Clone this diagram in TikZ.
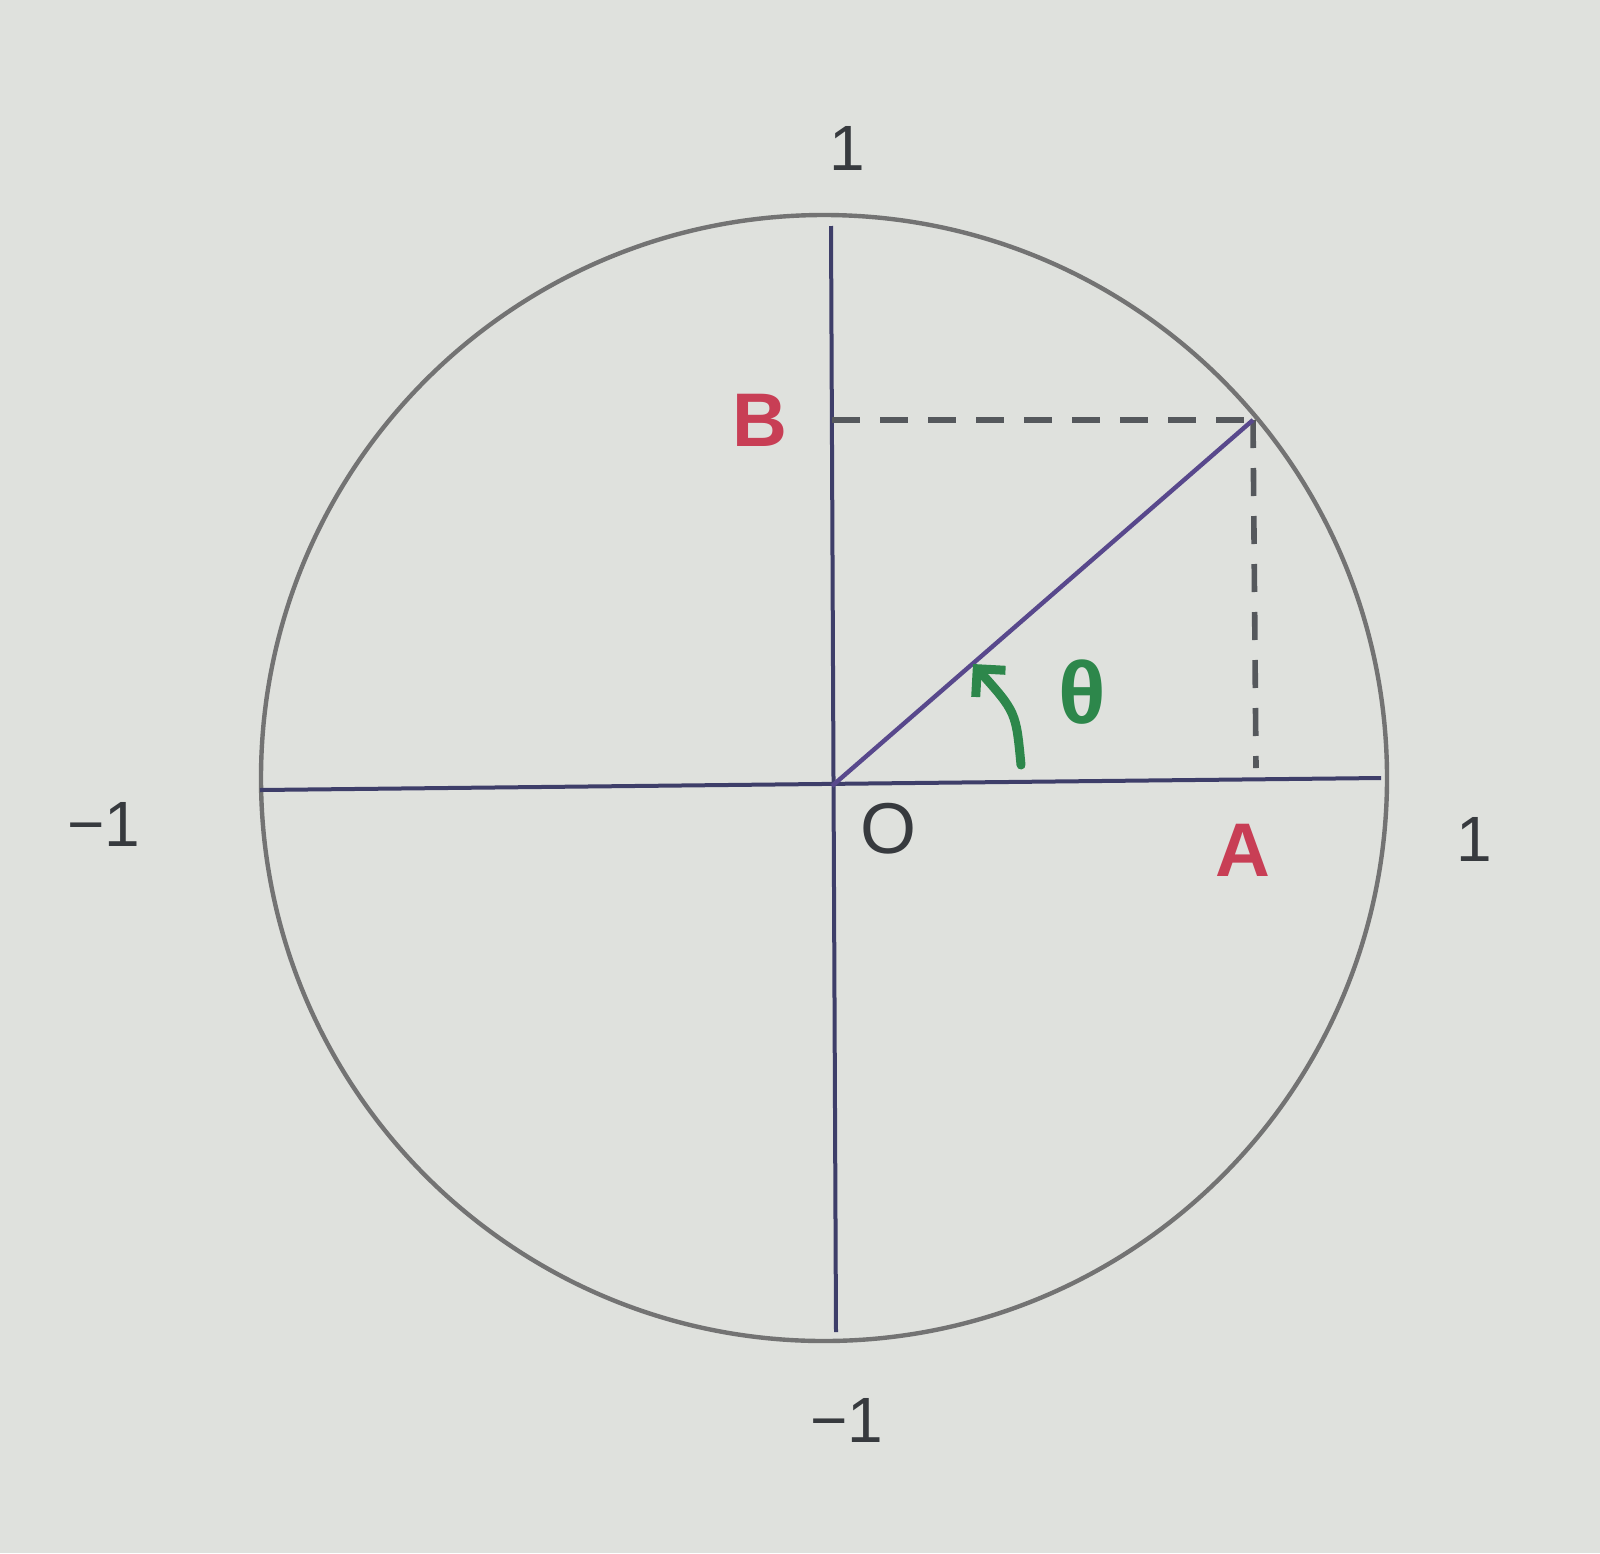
\documentclass[tikz,border=0pt]{standalone}
\usepackage{fontspec}
\setmainfont{Liberation Sans}
\usetikzlibrary{arrows.meta}
\definecolor{paper}{RGB}{223,225,221}
\definecolor{axiscol}{RGB}{62,62,105}
\definecolor{circcol}{RGB}{115,115,115}
\definecolor{dashcol}{RGB}{85,88,92}
\definecolor{radcol}{RGB}{88,72,140}
\definecolor{redcol}{RGB}{200,62,85}
\definecolor{greencol}{RGB}{45,135,75}
\definecolor{inkcol}{RGB}{55,58,62}
\tikzset{
  axis/.style={draw=axiscol, line width=2pt},
  circ/.style={draw=circcol, line width=2.2pt},
  proj/.style={draw=dashcol, line width=2.8pt, dash pattern=on 14pt off 10pt},
  radius line/.style={draw=radcol, line width=2.2pt},
  ptlabel/.style={text=redcol, font=\fontsize{38}{38}\selectfont\bfseries, inner sep=0pt},
  ticklabel/.style={text=inkcol, font=\fontsize{32}{32}\selectfont, inner sep=0pt},
  olabel/.style={text=inkcol, font=\fontsize{36}{36}\selectfont, inner sep=0pt},
  anglabel/.style={text=greencol, font=\fontsize{44}{44}\selectfont\bfseries, inner sep=0pt},
  angarrow/.style={draw=greencol, line width=4.5pt, line cap=round, -{Straight Barb[length=10pt,width=20pt,line width=4.5pt]}}
}
\begin{document}
\begin{tikzpicture}[x=0.5pt,y=-0.5pt]
\fill[paper] (0,0) rectangle (1600,1553);
\useasboundingbox (0,0) rectangle (1600,1553);
% circle
\coordinate (C) at (824,778);
\draw[circ] (C) circle[radius=563];
% axes
\coordinate (XL) at (260,790);
\coordinate (XR) at (1381,778);
\coordinate (YT) at (831,226);
\coordinate (YB) at (836,1332);
\coordinate (O) at (832,786);
\draw[axis] (XL) -- (XR);
\draw[axis] (YT) -- (YB);
% point on circle and projections
\coordinate (P) at (1253,420);
\coordinate (Bp) at (832,420);
\coordinate (Ap) at (1256,768);
\draw[proj] (Bp) -- (P);
\draw[proj] (P) -- (Ap);
\draw[radius line] (O) -- (P);
% angle arrow
\coordinate (T0) at (1021,765);
\coordinate (T1) at (973,664);
\draw[angarrow] (T0) .. controls (1016,712) .. (T1);
% labels
\node[ptlabel] (B) at (760,420) {B};
\node[ptlabel] (A) at (1243,850) {A};
\node[olabel] (Ol) at (888,829) {O};
\node[anglabel] (th) at (1082,692) {θ};
\node[ticklabel] (t1) at (847,148) {1};
\node[ticklabel] (t2) at (1474,839) {1};
\node[ticklabel] (t3) at (104,824) {−1};
\node[ticklabel] (t4) at (847,1420) {−1};
\end{tikzpicture}
\end{document}
